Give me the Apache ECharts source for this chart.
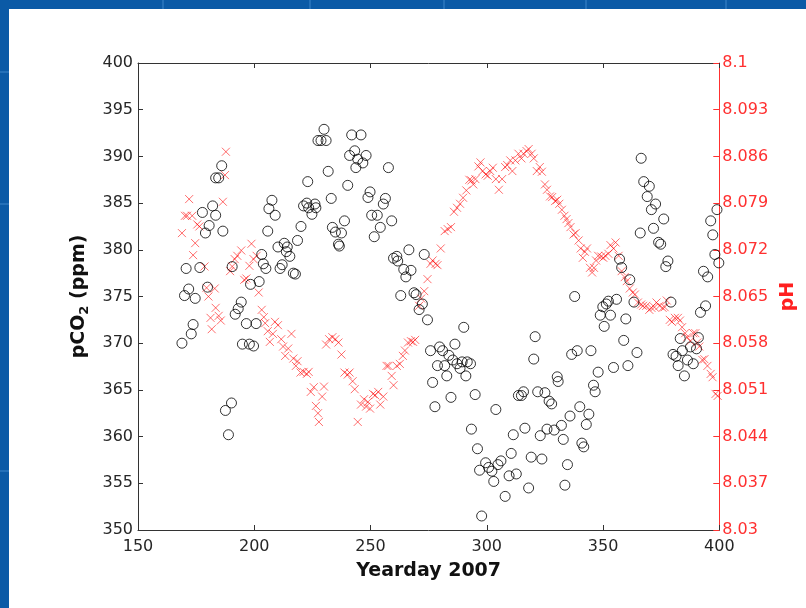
<!DOCTYPE html>
<html>
<head>
<meta charset="utf-8">
<script src="https://cdn.jsdelivr.net/npm/echarts@6/dist/echarts.min.js"></script>
<style>
  html, body { margin: 0; padding: 0; }
  #chart { width: 806px; height: 608px; }
</style>
</head>
<body>
<div id="chart"></div>
<script>
// pCO2 (ppm) readings: [yearday, pCO2]
const pco2Points = [
  [168.9,370.0],[170.0,375.1],[170.7,378.0],[171.8,375.8],[172.9,371.0],[173.7,372.0],[174.6,374.8],[176.6,378.1],
  [177.7,384.0],[179.0,381.8],[179.9,376.0],[180.6,382.6],[182.1,384.7],[183.4,383.7],[183.4,387.7],[184.7,387.7],
  [186.0,389.0],[186.5,382.0],[187.6,362.8],[190.2,363.6],[188.9,360.2],[190.5,378.2],[191.8,373.1],[193.1,373.7],
  [194.4,374.4],[194.9,369.9],[196.6,372.1],[198.4,376.3],[197.9,369.9],[199.7,369.7],[200.8,372.1],[202.1,376.6],
  [203.2,379.5],[203.9,378.5],[205.0,378.0],[205.8,382.0],[206.3,384.4],[207.6,385.3],[209.0,383.7],[210.2,380.3],
  [211.1,378.0],[212.0,378.4],[212.9,380.7],[213.8,379.8],[214.2,380.3],[215.3,379.3],[216.8,377.5],[217.7,377.4],
  [218.6,381.0],[220.1,382.5],[221.2,384.7],[222.6,385.0],[223.0,387.3],[223.4,384.5],[224.8,383.8],[226.1,384.9],
  [226.5,384.5],[227.4,391.7],[228.7,391.7],[230.0,392.9],[230.9,391.7],[231.8,388.4],[233.1,385.5],[233.6,382.4],
  [234.9,381.9],[236.2,380.6],[236.6,380.4],[237.5,381.8],[238.8,383.1],[240.2,386.9],[241.0,390.1],[241.9,392.3],
  [243.2,390.6],[243.7,388.8],[244.5,389.7],[245.9,392.3],[246.7,389.3],[248.1,390.1],[248.9,385.6],[249.8,386.2],
  [250.5,383.7],[251.6,381.4],[252.9,383.7],[254.2,382.4],[255.5,384.9],[256.4,385.5],[257.7,388.8],[259.1,383.1],
  [259.9,379.1],[261.3,379.3],[261.7,378.8],[263.0,375.1],[264.3,377.9],[265.2,377.1],[266.5,380.0],[267.4,377.8],
  [268.7,375.4],[269.6,375.2],[270.9,373.6],[272.3,374.2],[273.1,379.5],[274.5,372.5],[275.8,369.2],[276.7,365.8],
  [277.7,363.2],[278.8,367.6],[279.7,369.6],[281.0,369.2],[281.9,367.6],[282.8,366.5],[283.7,368.7],[284.6,364.2],
  [285.4,368.2],[286.3,369.9],[287.2,367.8],[288.5,367.3],[289.4,368.0],[290.1,371.7],[291.0,366.5],[291.6,368.0],
  [293.0,367.8],[293.4,360.8],[295.0,364.5],[296.0,358.7],[296.9,356.4],[297.8,351.5],[299.5,357.2],[300.8,356.7],
  [302.2,356.3],[303.0,355.2],[303.9,362.9],[304.8,357.0],[306.1,357.4],[307.9,353.6],[309.6,355.8],[310.5,358.2],
  [311.4,360.2],[312.7,356.0],[313.6,364.4],[314.9,364.4],[315.8,364.8],[316.4,360.9],[318.0,354.5],[319.1,357.8],
  [320.2,368.3],[320.8,370.7],[321.9,364.8],[323.0,360.1],[323.7,357.6],[325.0,364.7],[325.9,360.8],[326.8,363.8],
  [327.9,363.5],[329.0,360.7],[330.3,366.4],[330.7,365.9],[332.1,361.2],[332.9,359.7],[333.6,354.8],[334.7,357.0],
  [335.8,362.2],[336.5,368.8],[337.8,375.0],[338.9,369.2],[340.0,363.2],[340.9,359.3],[341.7,358.9],[342.8,361.3],
  [343.9,362.4],[344.8,369.2],[345.9,365.5],[346.6,364.8],[347.9,366.9],[348.8,373.0],[349.9,373.9],[350.5,371.8],
  [351.4,374.2],[352.3,374.5],[353.2,373.0],[354.5,367.4],[355.8,374.7],[357.1,379.0],[358.0,378.1],[358.9,370.3],
  [359.8,372.6],[360.7,367.6],[361.5,376.8],[363.3,374.4],[364.6,369.0],[366.0,381.8],[366.4,389.8],[367.5,387.3],
  [369.0,385.7],[369.9,386.8],[370.8,384.3],[371.7,382.3],[372.6,384.9],[373.9,380.8],[374.8,380.6],[376.1,383.3],
  [377.0,378.2],[377.9,378.8],[379.2,374.4],[380.1,368.8],[381.4,368.6],[382.3,367.6],[383.2,370.5],[384.1,369.2],
  [385.0,366.5],[386.3,368.2],[387.6,369.6],[388.8,367.8],[390.2,369.4],[391.0,370.6],[391.9,373.3],[393.2,377.7],
  [394.1,374.0],[395.0,377.1],[396.3,383.1],[397.2,381.6],[398.1,379.5],[399.0,384.3],[399.8,378.6]
];

// pH readings: [yearday, pH]
const phPoints = [
  [168.9,8.0745],[170.2,8.0771],[171.1,8.0771],[172.0,8.0796],[173.3,8.0771],[173.7,8.0712],[174.6,8.0730],[175.5,8.0758],
  [176.4,8.0755],[178.6,8.0695],[179.5,8.0663],[180.3,8.0650],[181.2,8.0618],[181.7,8.0601],[183.0,8.0662],[183.4,8.0633],
  [184.7,8.0621],[185.6,8.0614],[186.5,8.0792],[187.4,8.0832],[187.8,8.0867],[189.6,8.0688],[190.5,8.0695],[191.6,8.0706],
  [192.7,8.0711],[194.4,8.0719],[195.7,8.0675],[196.6,8.0677],[197.9,8.0696],[198.8,8.0729],[199.7,8.0706],[201.0,8.0711],
  [201.9,8.0656],[203.2,8.0630],[204.1,8.0619],[204.7,8.0610],[205.8,8.0598],[206.7,8.0582],[208.0,8.0594],[208.9,8.0612],
  [210.2,8.0607],[211.6,8.0586],[212.4,8.0575],[213.3,8.0561],[214.6,8.0572],[216.0,8.0594],[216.8,8.0557],[217.9,8.0546],
  [218.6,8.0553],[219.9,8.0536],[221.2,8.0537],[222.6,8.0534],[223.4,8.0537],[224.3,8.0507],[225.6,8.0514],[226.5,8.0486],
  [227.4,8.0475],[227.8,8.0462],[229.2,8.0500],[230.0,8.0515],[230.9,8.0578],[232.2,8.0586],[233.6,8.0589],[234.9,8.0586],
  [236.2,8.0581],[237.5,8.0563],[238.8,8.0536],[240.2,8.0533],[241.0,8.0536],[242.3,8.0523],[243.2,8.0511],[244.5,8.0462],
  [245.9,8.0488],[247.2,8.0496],[248.1,8.0485],[248.9,8.0492],[249.8,8.0482],[251.1,8.0504],[252.0,8.0502],[253.3,8.0507],
  [254.2,8.0488],[255.5,8.0500],[256.9,8.0546],[257.7,8.0546],[259.1,8.0531],[259.9,8.0517],[261.3,8.0546],[262.6,8.0549],
  [263.9,8.0561],[264.8,8.0569],[266.1,8.0581],[267.4,8.0583],[268.3,8.0582],[269.2,8.0585],[270.9,8.0636],[271.8,8.0647],
  [273.1,8.0658],[274.5,8.0676],[275.8,8.0699],[276.7,8.0704],[278.0,8.0699],[278.8,8.0697],[280.2,8.0722],[281.9,8.0748],
  [283.2,8.0751],[284.6,8.0754],[285.9,8.0777],[287.2,8.0783],[288.5,8.0789],[289.8,8.0798],[291.2,8.0809],[292.5,8.0825],
  [293.4,8.0824],[294.2,8.0818],[295.1,8.0826],[296.4,8.0845],[297.3,8.0851],[298.2,8.0838],[299.5,8.0833],[300.4,8.0831],
  [301.5,8.0838],[302.6,8.0843],[303.9,8.0826],[305.2,8.0810],[306.6,8.0826],[307.9,8.0844],[308.8,8.0847],[310.1,8.0854],
  [311.0,8.0838],[312.3,8.0854],[313.6,8.0864],[314.9,8.0857],[315.8,8.0864],[317.1,8.0868],[318.0,8.0871],[319.3,8.0864],
  [320.2,8.0857],[321.5,8.0838],[322.8,8.0844],[323.7,8.0837],[325.0,8.0818],[325.9,8.0810],[327.2,8.0800],[328.1,8.0799],
  [329.4,8.0793],[330.3,8.0795],[331.2,8.0789],[332.3,8.0780],[333.4,8.0771],[334.3,8.0766],[335.1,8.0760],[336.0,8.0754],
  [337.3,8.0743],[338.2,8.0745],[339.5,8.0734],[340.4,8.0722],[341.3,8.0708],[342.2,8.0717],[343.1,8.0722],[344.4,8.0693],
  [345.3,8.0686],[346.1,8.0693],[347.0,8.0704],[347.9,8.0711],[349.2,8.0710],[350.1,8.0708],[351.0,8.0711],[352.3,8.0714],
  [353.2,8.0727],[354.5,8.0722],[355.4,8.0731],[356.7,8.0711],[358.0,8.0688],[359.3,8.0679],[360.2,8.0673],[361.5,8.0662],
  [362.8,8.0656],[363.7,8.0653],[365.0,8.0641],[366.4,8.0638],[367.2,8.0636],[368.6,8.0636],[369.9,8.0630],[370.8,8.0633],
  [372.1,8.0634],[373.0,8.0641],[374.3,8.0636],[375.6,8.0633],[376.5,8.0634],[377.4,8.0644],[378.7,8.0615],[379.6,8.0612],
  [380.9,8.0618],[382.2,8.0618],[383.1,8.0614],[384.0,8.0604],[385.3,8.0595],[386.2,8.0589],[387.5,8.0583],[388.8,8.0595],
  [389.7,8.0595],[390.5,8.0581],[391.4,8.0575],[392.7,8.0555],[393.6,8.0556],[394.9,8.0546],[396.3,8.0534],[397.1,8.0529],
  [398.4,8.0504],[399.3,8.0501]
];

const phTicks = [8.03, 8.037, 8.044, 8.051, 8.058, 8.065, 8.072, 8.079, 8.086, 8.093, 8.1];

const font = "DejaVu Sans";
const chart = echarts.init(document.getElementById("chart"));

// faint lines in the blue slide frame
const frameLines = [162, 309, 443, 585, 725].map((x) => ({
  type: "rect", shape: { x: x, y: 0, width: 2, height: 9 }, style: { fill: "#2470b8" }
})).concat([71, 203, 470].map((y) => ({
  type: "rect", shape: { x: 0, y: y, width: 9, height: 2 }, style: { fill: "#2470b8" }
})));

chart.setOption({
  animation: false,
  backgroundColor: "#0b5aa6",
  graphic: [
    { type: "rect", z: -10, shape: { x: 9, y: 9, width: 797, height: 599 }, style: { fill: "#ffffff" } }
  ].concat(frameLines),
  grid: { left: 138, right: 84, top: 63, bottom: 78 },
  xAxis: [
    {
      type: "value", min: 150, max: 400, interval: 50, position: "bottom",
      name: "Yearday 2007", nameLocation: "middle", nameGap: 32,
      nameTextStyle: { fontFamily: font, fontSize: 19, fontWeight: "bold", color: "#111" },
      axisLine: { lineStyle: { color: "#333", width: 1 } },
      axisTick: { inside: true, length: 5, lineStyle: { color: "#333" } },
      axisLabel: { fontFamily: font, fontSize: 16, color: "#262626", margin: 9 },
      splitLine: { show: false }
    },
    {
      type: "value", min: 150, max: 400, interval: 50, position: "top",
      axisLine: { lineStyle: { color: "#333", width: 1 } },
      axisTick: { inside: true, length: 5, lineStyle: { color: "#333" } },
      axisLabel: { show: false },
      splitLine: { show: false }
    }
  ],
  yAxis: [
    {
      type: "value", min: 350, max: 400, interval: 5, position: "left",
      name: "{a|pCO}{s|2}{a| (ppm)}", nameLocation: "middle", nameGap: 44, nameRotate: 90,
      nameTextStyle: {
        rich: {
          a: { fontFamily: font, fontSize: 19, fontWeight: "bold", color: "#111", lineHeight: 24, verticalAlign: "middle" },
          s: { fontFamily: font, fontSize: 13, fontWeight: "bold", color: "#111", lineHeight: 13, verticalAlign: "bottom" }
        }
      },
      axisLine: { show: true, lineStyle: { color: "#333", width: 1 } },
      axisTick: { show: true, inside: true, length: 5, lineStyle: { color: "#333" } },
      axisLabel: { fontFamily: font, fontSize: 16, color: "#262626", margin: 5 },
      splitLine: { show: false }
    },
    {
      type: "value", min: 8.03, max: 8.1, position: "right",
      name: "pH", nameLocation: "middle", nameGap: 57, nameRotate: 90,
      nameTextStyle: { fontFamily: font, fontSize: 19, fontWeight: "bold", color: "#ff2020" },
      axisLine: { show: true, lineStyle: { color: "#ff3030", width: 1 } },
      axisTick: { show: true, inside: true, length: 6, customValues: phTicks, lineStyle: { color: "#ff3030" } },
      axisLabel: {
        fontFamily: font, fontSize: 16, color: "#ff3030", margin: 3,
        customValues: phTicks,
        formatter: (v) => String(+v.toFixed(3))
      },
      splitLine: { show: false }
    }
  ],
  series: [
    {
      name: "pH",
      type: "scatter",
      yAxisIndex: 1,
      data: phPoints,
      symbol: "path://M0,0L10,10M10,0L0,10",
      symbolSize: 8,
      itemStyle: { color: "none", borderColor: "rgba(255,0,0,0.72)", borderWidth: 1 }
    },
    {
      name: "pCO2",
      type: "scatter",
      data: pco2Points,
      symbol: "circle",
      symbolSize: 10,
      itemStyle: { color: "rgba(0,0,0,0)", borderColor: "#000", borderWidth: 1 }
    }
  ]
});
</script>
</body>
</html>
